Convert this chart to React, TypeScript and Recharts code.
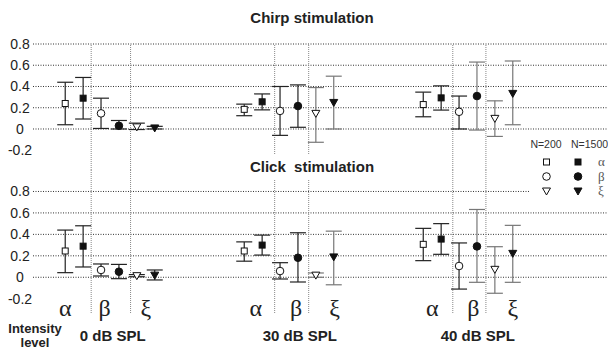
import React from 'react';
import { ScatterChart, Scatter, XAxis, YAxis, ErrorBar, ReferenceLine } from 'recharts';

// ---- categories ----
const levels = ['0 dB SPL', '30 dB SPL', '40 dB SPL'];
const params = ['α', 'β', 'ξ'];
const groups = ['N=200', 'N=1500'];

// ---- Chirp stimulation (order: 0dB α,β,ξ | 30dB α,β,ξ | 40dB α,β,ξ) ----
const chirpMean200 = [0.24, 0.147, 0.02, 0.185, 0.17, 0.147, 0.23, 0.162, 0.1];
const chirpHigh200 = [0.44, 0.29, 0.055, 0.234, 0.4, 0.39, 0.347, 0.31, 0.265];
const chirpLow200 = [0.04, 0.005, -0.005, 0.125, -0.06, -0.125, 0.115, 0.0, -0.07];
const chirpMean1500 = [0.29, 0.03, 0.01, 0.256, 0.216, 0.25, 0.293, 0.31, 0.335];
const chirpHigh1500 = [0.485, 0.08, 0.025, 0.33, 0.415, 0.497, 0.406, 0.63, 0.64];
const chirpLow1500 = [0.094, 0.0, 0.0, 0.18, 0.016, 0.0, 0.178, -0.01, 0.04];

// ---- Click stimulation ----
const clickMean200 = [0.245, 0.068, 0.015, 0.245, 0.058, 0.02, 0.307, 0.105, 0.074];
const clickHigh200 = [0.44, 0.124, 0.025, 0.33, 0.136, 0.04, 0.456, 0.32, 0.285];
const clickLow200 = [0.043, 0.012, 0.005, 0.15, -0.016, 0.0, 0.155, -0.11, -0.149];
const clickMean1500 = [0.29, 0.052, 0.02, 0.3, 0.182, 0.19, 0.356, 0.288, 0.223];
const clickHigh1500 = [0.48, 0.12, 0.068, 0.393, 0.415, 0.43, 0.5, 0.632, 0.484];
const clickLow1500 = [0.096, -0.013, -0.025, 0.207, -0.044, -0.07, 0.214, -0.047, -0.047];

// ---- axes ----
const yTicks = [0.8, 0.6, 0.4, 0.2, 0, -0.2];
const gridValues = [0.8, 0.6, 0.4, 0.2, 0];
const dividerX = [1.45, 3.65, 11.7, 13.6, 21.65, 23.5];
const paramTickX = [0, 2.2, 4.5, 10.65, 12.9, 15.05, 20.5, 22.8, 25.0];
const levelTickX = [2.65, 13.1, 23.05];

const X_DOMAIN: [number, number] = [-1.8, 30.32];
const shapes = ['square', 'circle', 'triangle'];
const SANS = "'Liberation Sans', Arial, Helvetica, sans-serif";
const SERIF = "'Liberation Serif', 'Times New Roman', serif";

type Pt = { x: number; y: number; err: [number, number] };

function buildSeries(mean: number[][], high: number[][], low: number[][]) {
  const out: { key: string; p: number; n: number; gray: boolean; data: Pt[] }[] = [];
  params.forEach((_, p) => {
    groups.forEach((_, n) => {
      const black: Pt[] = [];
      const gray: Pt[] = [];
      levels.forEach((_, g) => {
        const i = g * 3 + p;
        const m = mean[n][i];
        const pt: Pt = { x: g * 10 + p * 2 + n, y: m, err: [m - low[n][i], high[n][i] - m] };
        const isGray = (p === 2 && g > 0) || (p === 1 && n === 1 && g === 2);
        (isGray ? gray : black).push(pt);
      });
      if (black.length) out.push({ key: `${p}-${n}-b`, p, n, gray: false, data: black });
      if (gray.length) out.push({ key: `${p}-${n}-g`, p, n, gray: true, data: gray });
    });
  });
  return out;
}

const chirpSeries = buildSeries(
  [chirpMean200, chirpMean1500],
  [chirpHigh200, chirpHigh1500],
  [chirpLow200, chirpLow1500]
);
const clickSeries = buildSeries(
  [clickMean200, clickMean1500],
  [clickHigh200, clickHigh1500],
  [clickLow200, clickLow1500]
);

function Marker(props: any) {
  const { cx, cy, kind, filled } = props;
  if (cx == null || cy == null) return null;
  const fill = filled ? '#111' : '#fff';
  const st = { fill, stroke: '#111', strokeWidth: 1 };
  if (kind === 'square') return <rect x={cx - 3} y={cy - 3} width={6} height={6} {...st} />;
  if (kind === 'circle') return <circle cx={cx} cy={cy} r={3.8} {...st} />;
  return <path d={`M${cx - 4},${cy - 3} L${cx + 4},${cy - 3} L${cx},${cy + 4} Z`} {...st} />;
}

const YTick = (props: any) => {
  const { y, payload } = props;
  return (
    <text x={20} y={y} textAnchor="middle" dominantBaseline="central" fontSize={14} fill="#222"
      style={{ fontFamily: SANS }}>
      {payload.value}
    </text>
  );
};

const XTick = (props: any) => {
  const { x, y, payload } = props;
  const pi = paramTickX.indexOf(payload.value);
  if (pi >= 0) {
    return (
      <text x={x} y={y + 3} textAnchor="middle" fontSize={24} fill="#222" style={{ fontFamily: SERIF }}>
        {params[pi % 3]}
      </text>
    );
  }
  const li = levelTickX.indexOf(payload.value);
  return (
    <text x={x} y={y + 28} textAnchor="middle" fontSize={15} fontWeight="bold" fill="#222"
      style={{ fontFamily: SANS }}>
      {levels[li]}
    </text>
  );
};

function renderPanel(series: ReturnType<typeof buildSeries>) {
  return [
    ...gridValues.map((v) => (
      <ReferenceLine key={`h${v}`} y={v} stroke="#333" strokeDasharray="1 1.5" strokeWidth={1} />
    )),
    ...dividerX.map((v) => (
      <ReferenceLine key={`v${v}`} x={v} stroke="#888" strokeDasharray="1 1" strokeWidth={1} />
    )),
    ...series.map((s) => (
      <Scatter
        key={s.key}
        data={s.data}
        dataKey="y"
        isAnimationActive={false}
        shape={(pr: any) => <Marker {...pr} kind={shapes[s.p]} filled={s.n === 1} />}
      >
        <ErrorBar dataKey="err" direction="y" width={8} stroke={s.gray ? '#777' : '#222'} strokeWidth={1.2} />
      </Scatter>
    )),
  ];
}

export default function App() {
  return (
    <div style={{ position: 'absolute', left: 0, top: 0, width: 608, height: 349, background: '#fff',
      fontFamily: SANS, overflow: 'hidden' }}>
      <div style={{ position: 'absolute', left: 0, top: 0 }}>
        <ScatterChart width={608} height={170} margin={{ top: 44, right: 0, bottom: 0, left: 0 }}>
          <XAxis type="number" dataKey="x" domain={X_DOMAIN} allowDataOverflow hide />
          <YAxis type="number" dataKey="y" domain={[-0.386, 0.8]} allowDataOverflow ticks={yTicks}
            width={33} axisLine={false} tickLine={false} tick={<YTick />} interval={0} />
          {renderPanel(chirpSeries)}
        </ScatterChart>
      </div>
      <div style={{ position: 'absolute', left: 0, top: 170 }}>
        <ScatterChart width={608} height={179} margin={{ top: 0, right: 0, bottom: 0, left: 0 }}>
          <XAxis type="number" dataKey="x" domain={X_DOMAIN} allowDataOverflow height={36}
            ticks={[...paramTickX, ...levelTickX]} interval={0} axisLine={false} tickLine={false}
            tickSize={0} tickMargin={0} tick={<XTick />} />
          <YAxis type="number" dataKey="y" domain={[-0.333, 1.0]} allowDataOverflow ticks={yTicks}
            width={33} axisLine={false} tickLine={false} tick={<YTick />} interval={0} />
          {renderPanel(clickSeries)}
        </ScatterChart>
      </div>

      {/* titles */}
      <div style={{ position: 'absolute', left: 248, top: 8, width: 128, height: 20, textAlign: 'center',
        fontSize: 15, fontWeight: 'bold', color: '#222', lineHeight: '20px', whiteSpace: 'pre' }}>Chirp stimulation</div>
      <div style={{ position: 'absolute', left: 246, top: 155, width: 132, height: 24, background: '#fff',
        textAlign: 'center', fontSize: 15, fontWeight: 'bold', color: '#222', lineHeight: '24px',
        whiteSpace: 'pre' }}>{'Click  stimulation'}</div>

      {/* axis name */}
      <div style={{ position: 'absolute', left: 0, top: 322, width: 70, textAlign: 'center', fontSize: 13,
        fontWeight: 'bold', color: '#222', lineHeight: '14px' }}>Intensity<br />level</div>

      {/* legend */}
      <div style={{ position: 'absolute', left: 529, top: 136, width: 79, height: 62, background: '#fff' }}>
        <svg width={79} height={62} style={{ overflow: 'hidden', display: 'block' }}>
          <text x={17} y={12} textAnchor="middle" fontSize={10.5} fill="#333" style={{ fontFamily: SANS }}>
            {groups[0]}
          </text>
          <text x={42} y={12} fontSize={10.5} fill="#333" style={{ fontFamily: SANS }}>{groups[1]}</text>
          {params.map((p, i) => (
            <g key={p}>
              <Marker cx={17.5} cy={26 + i * 14.5} kind={shapes[i]} filled={false} />
              <Marker cx={49} cy={26 + i * 14.5} kind={shapes[i]} filled />
              <text x={69} y={30 + i * 14.5} fontSize={13} fill="#555" style={{ fontFamily: SERIF }}>{p}</text>
            </g>
          ))}
        </svg>
      </div>
    </div>
  );
}
